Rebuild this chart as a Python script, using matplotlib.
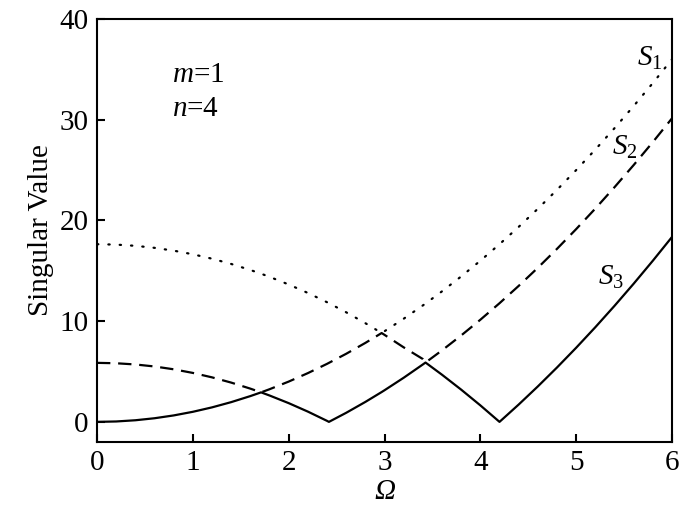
import matplotlib.pyplot as plt

plt.rcParams["font.family"] = ["Liberation Serif", "DejaVu Serif"]
plt.rcParams["mathtext.fontset"] = "custom"
plt.rcParams["mathtext.rm"] = "Liberation Serif"
plt.rcParams["mathtext.it"] = "Liberation Serif:italic"

# Ω sample points (kinks included)
omega = [0.0, 0.2, 0.4, 0.6, 0.8, 1.0, 1.2, 1.4, 1.6, 1.712, 1.8, 2.0, 2.2,
         2.4, 2.42, 2.6, 2.8, 2.97, 3.0, 3.2, 3.4, 3.428, 3.6, 3.8, 4.0,
         4.2, 4.4, 4.6, 4.8, 5.0, 5.2, 5.4, 5.6, 5.8, 6.0]

s1 = [17.64, 17.60, 17.48, 17.28, 17.00, 16.64, 16.20, 15.68, 15.08, 14.71,
      14.40, 13.64, 12.80, 11.88, 11.78, 10.88, 9.80, 8.82, 9.00, 10.24,
      11.56, 11.75, 12.96, 14.44, 16.00, 17.64, 19.36, 21.16, 23.04, 25.00,
      27.04, 29.16, 31.36, 33.64, 36.00]

s2 = [5.86, 5.82, 5.70, 5.50, 5.22, 4.86, 4.42, 3.90, 3.30, 2.93,
      3.24, 4.00, 4.84, 5.76, 5.86, 6.76, 7.84, 8.82, 8.64, 7.40,
      6.24, 5.89, 7.10, 8.58, 10.14, 11.78, 13.50, 15.30, 17.18, 19.14,
      21.18, 23.30, 25.50, 27.78, 30.14]

s3 = [0.00, 0.04, 0.16, 0.36, 0.64, 1.00, 1.44, 1.96, 2.56, 2.93,
      2.62, 1.86, 1.02, 0.10, 0.00, 0.90, 1.98, 2.96, 3.14, 4.38,
      5.70, 5.89, 4.68, 3.20, 1.64, 0.00, 1.72, 3.52, 5.40, 7.36,
      9.40, 11.52, 13.72, 16.00, 18.36]

fs = 21

fig = plt.figure(figsize=(7.0, 5.11), dpi=100)
ax = fig.add_axes([0.1386, 0.135, 0.8214, 0.8278])

ax.plot(omega, s1, color="black", lw=1.6, linestyle=(0, (0.6, 4.5)),
        dash_capstyle="round")
ax.plot(omega, s2, color="black", lw=1.6, linestyle=(0, (6, 3.5)))
ax.plot(omega, s3, color="black", lw=1.6, linestyle="-")

ax.text(5.63, 35.4, "$S_1$", fontsize=fs)
ax.text(5.37, 26.5, "$S_2$", fontsize=fs)
ax.text(5.23, 13.6, "$S_3$", fontsize=fs)
ax.text(0.78, 33.7, "$m$=1", fontsize=fs)
ax.text(0.78, 30.4, "$n$=4", fontsize=fs)

ax.set_xlim(0, 6)
ax.set_ylim(-2, 40)
ax.set_xticks([0, 1, 2, 3, 4, 5, 6])
ax.set_yticks([0, 10, 20, 30, 40])
ax.tick_params(direction="in", length=6, width=1.5, labelsize=fs, pad=6)
for sp in ax.spines.values():
    sp.set_linewidth(1.5)

ax.set_xlabel("Ω", fontsize=fs, style="italic", labelpad=2)
ax.set_ylabel("Singular Value", fontsize=fs, labelpad=4)

fig.savefig("out.png", dpi=100)
